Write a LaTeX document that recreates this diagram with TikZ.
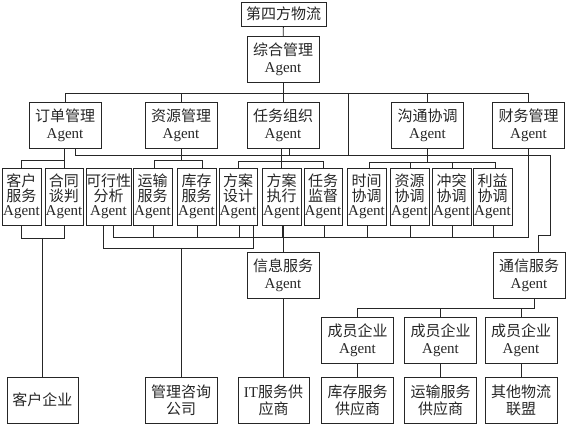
\documentclass[tikz,border=0pt]{standalone}
\usepackage{fontspec}
\setmainfont{Liberation Serif}
\newfontfamily\cjk{Noto Sans CJK SC}
\newcommand{\zh}[1]{{\cjk #1}}
\lineskiplimit=-8pt

\tikzset{
  box/.style={draw, inner sep=0pt, align=center, minimum width=72pt, minimum height=46pt,
    font=\fontsize{15}{17}\selectfont},
  smallbox/.style={box, minimum width=39pt, minimum height=57pt,
    font=\fontsize{15}{14.5}\selectfont},
}

\begin{document}
\begin{tikzpicture}[x=1pt, y=-1pt, line width=0.8pt, color=black!85]

    \useasboundingbox (0,0) rectangle (566,425);

    %sommet
    \node[box, minimum width=85pt, minimum height=24pt] (sf) at (283.5,14) {\zh{第四方物流}};
    \node[box] (zh) at (283,59.5) {\zh{综合管理}\\Agent};

    %niveau 2
    \node[box] (dd) at (65,125)    {\zh{订单管理}\\Agent};
    \node[box] (zy) at (181,125)   {\zh{资源管理}\\Agent};
    \node[box] (rw) at (283,125)   {\zh{任务组织}\\Agent};
    \node[box] (gt) at (427.5,125) {\zh{沟通协调}\\Agent};
    \node[box] (cw) at (528.5,125) {\zh{财务管理}\\Agent};

    %niveau 3
    \node[smallbox] (kh) at (21.5,196.5)  {\zh{客户}\\ \zh{服务}\\Agent};
    \node[smallbox, minimum width=38pt] (ht) at (64,196.5) {\zh{合同}\\ \zh{谈判}\\Agent};
    \node[smallbox, minimum width=45pt] (kx) at (108.5,196.5) {\zh{可行性}\\ \zh{分析}\\Agent};
    \node[smallbox] (ys) at (152.5,196.5) {\zh{运输}\\ \zh{服务}\\Agent};
    \node[smallbox] (kc) at (196.5,196.5) {\zh{库存}\\ \zh{服务}\\Agent};
    \node[smallbox, minimum width=38pt] (fs) at (238,196.5) {\zh{方案}\\ \zh{设计}\\Agent};
    \node[smallbox] (fz) at (281.5,196.5) {\zh{方案}\\ \zh{执行}\\Agent};
    \node[smallbox, minimum width=38pt] (jd) at (323,196.5) {\zh{任务}\\ \zh{监督}\\Agent};
    \node[smallbox] (sj) at (366.5,196.5) {\zh{时间}\\ \zh{协调}\\Agent};
    \node[smallbox] (zx) at (409.5,196.5) {\zh{资源}\\ \zh{协调}\\Agent};
    \node[smallbox] (ct) at (451.5,196.5) {\zh{冲突}\\ \zh{协调}\\Agent};
    \node[smallbox] (ly) at (492.5,196.5) {\zh{利益}\\ \zh{协调}\\Agent};

    %services
    \node[box] (xx) at (283,275) {\zh{信息服务}\\Agent};
    \node[box] (tx) at (529,275) {\zh{通信服务}\\Agent};

    %membres
    \node[box] (cy1) at (357.5,340) {\zh{成员企业}\\Agent};
    \node[box] (cy2) at (440.5,340) {\zh{成员企业}\\Agent};
    \node[box] (cy3) at (521,340)   {\zh{成员企业}\\Agent};

    %bas
    \node[box, minimum width=71pt] (kq) at (42.5,400) {\zh{客户企业}};
    \node[box] (gl)  at (181,400)   {\zh{管理咨询}\\ \zh{公司}};
    \node[box, minimum width=71pt] (it) at (273.5,400) {IT\zh{服务供}\\ \zh{应商}};
    \node[box] (kcg) at (357.5,400) {\zh{库存服务}\\ \zh{供应商}};
    \node[box] (ysg) at (440.5,400) {\zh{运输服务}\\ \zh{供应商}};
    \node[box] (qt)  at (521,400)   {\zh{其他物流}\\ \zh{联盟}};

    \coordinate (bus) at (0,93);
    \coordinate (croix) at (0,155);
    \coordinate (busA) at (0,237);
    \coordinate (busB) at (0,248);
    \coordinate (lien) at (348,93);

    %haut
    \draw (sf) -- (zh);
    \draw (zh.south) -- (zh.south |- bus);
    \draw (dd.north) -- (dd.north |- bus) -- (cw.north |- bus) -- (cw.north);
    \foreach \n in {zy,rw,gt} \draw (\n.north) -- (\n.north |- bus);
    \draw (lien) -- (lien |- croix);

    %ligne transversale
    \draw ([xshift=10pt]dd.south) -- ([xshift=10pt]dd.south |- croix) -- (550,155)
        -- (550,235) -- ([xshift=9pt]tx.north |- 0,235) -- ([xshift=9pt]tx.north);

    %vers niveau 3
    \draw (dd.south -| ht.north) -- (ht.north);
    \draw (kh.north) -- (kh.north |- 0,160) -- (ht.north |- 0,160);
    \draw (zy.south) -- (zy.south |- 0,160);
    \draw ([xshift=1.5pt]ys.north) -- ([xshift=1.5pt]ys.north |- 0,160)
        -- ([xshift=5.5pt]kc.north |- 0,160) -- ([xshift=5.5pt]kc.north);
    \draw (rw.south -| fz.north) -- (fz.north);
    \draw ([xshift=6pt]rw.south) -- ([xshift=6pt]rw.south |- croix);
    \draw (fs.north) -- (fs.north |- 0,161) -- (jd.north |- 0,161) -- (jd.north);
    \draw (gt.south) -- (gt.south |- 0,162);
    \draw ([xshift=2.5pt]sj.north) -- ([xshift=2.5pt]sj.north |- 0,162)
        -- ([xshift=2.5pt]ly.north |- 0,162) -- ([xshift=2.5pt]ly.north);
    \foreach \n in {zx,ct} \draw ([xshift=1pt]\n.north) -- ([xshift=1pt]\n.north |- 0,162);
    \draw (cw.south) -- (cw.south |- busA);

    %bus du bas
    \draw ([xshift=4.5pt]kx.south) -- ([xshift=4.5pt]kx.south |- busA) -- (cw.south |- busA);
    \foreach \n in {ys,kc,fs,fz,jd,sj,zx,ct,ly} \draw ([xshift=1pt]\n.south) -- ([xshift=1pt]\n.south |- busA);
    \draw (xx.north |- fz.south) -- (xx.north);
    \draw ([xshift=-5.5pt]kx.south) -- ([xshift=-5.5pt]kx.south |- busB)
        -- ([xshift=15pt]fs.south |- busB) -- ([xshift=15pt]fs.south);
    \draw (gl.north |- busB) -- (gl.north);
    \draw (kh.south) -- (kh.south |- 0,238) -- (ht.south |- 0,238) -- (ht.south);
    \draw (kq.north |- 0,238) -- (kq.north);
    \draw (xx.south) -- (xx.south |- it.north);

    %communication
    \draw ([xshift=5pt]tx.south) -- ([xshift=5pt]tx.south |- 0,308) -- (cy1.north |- 0,308) -- (cy1.north);
    \foreach \n in {cy2,cy3} \draw (\n.north) -- (\n.north |- 0,308);
    \draw (cy1) -- (kcg);
    \draw (cy2) -- (ysg);
    \draw (cy3) -- (qt);
\end{tikzpicture}
\end{document}
